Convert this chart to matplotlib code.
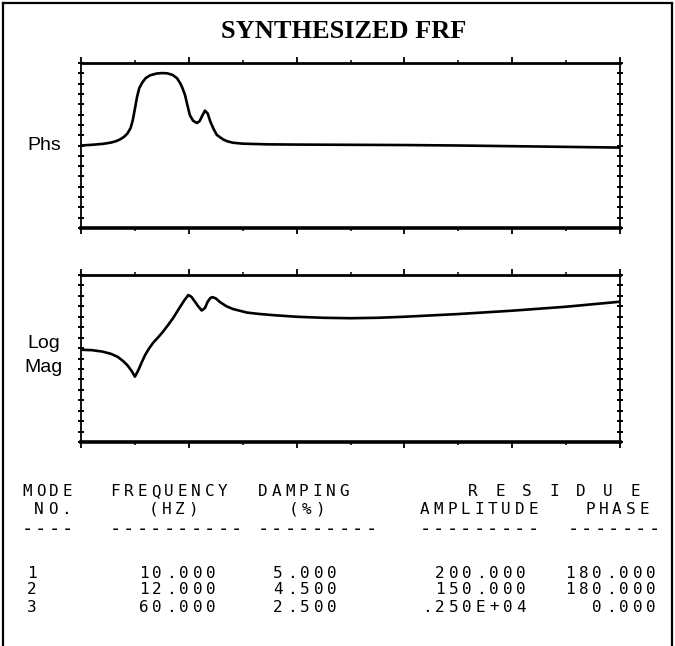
import numpy as np
import matplotlib
matplotlib.use("Agg")
import matplotlib.pyplot as plt
from matplotlib.lines import Line2D

W, H = 675, 646

# frequency axis, Hz (0..50 Hz across)
phs_freq = [0, 1.0, 2.0, 2.7, 3.2, 3.6, 4.0, 4.3, 4.6, 4.8, 5.0, 5.2, 5.4, 5.7,
            6.0, 6.4, 7.0, 7.5, 8.0, 8.5, 8.9, 9.2, 9.4, 9.65, 9.9, 10.1, 10.4,
            10.75, 11.0, 11.25, 11.5, 11.75, 12.0, 12.3, 12.6, 13.2, 13.6, 14.1,
            15.0, 17.3, 20, 25, 30, 35, 40, 45, 50]
phs_deg = [0, 1.5, 3.5, 6, 9, 13, 19, 26, 38, 55, 80, 106, 125, 138,
           147, 153, 157, 158, 157.5, 154, 147, 136, 126, 110, 85, 66, 54,
           49, 53, 65, 76, 70, 52, 36, 23, 13, 9, 6,
           4, 2.5, 2, 1.5, 1, 0, -1.5, -3, -4.5]

mag_freq = [0, 1.0, 2.0, 2.8, 3.4, 3.9, 4.3, 4.7, 5.0, 5.3, 5.6, 5.95, 6.3,
            6.7, 7.2, 7.6, 8.1, 8.55, 9.2, 9.6, 9.95, 10.25, 10.6, 10.9, 11.2,
            11.5, 11.75, 12.0, 12.2, 12.5, 12.9, 13.5, 14.1, 15.4, 16.6, 18.0,
            20.0, 22.5, 25.0, 27.5, 30.0, 35.0, 40.0, 45.0, 50.0]
mag_log = [0.42, 0.40, 0.33, 0.22, 0.08, -0.12, -0.32, -0.60, -0.87, -0.58,
           -0.22, 0.17, 0.47, 0.76, 1.04, 1.28, 1.62, 1.94, 2.48, 2.80, 3.04,
           2.95, 2.70, 2.48, 2.30, 2.42, 2.72, 2.90, 2.94, 2.88, 2.70, 2.50,
           2.37, 2.20, 2.13, 2.07, 2.00, 1.95, 1.93, 1.95, 2.00, 2.13, 2.29,
           2.48, 2.72]

# modal table
mode_no = ["1", "2", "3"]
freq_hz = ["10.000", "12.000", "60.000"]
damping = ["5.000", "4.500", "2.500"]
res_amp = ["200.000", "150.000", ".250E+04"]
res_phase = ["180.000", "180.000", "0.000"]

fig = plt.figure(figsize=(W / 100, H / 100), dpi=100)


def fx(x):
    return x / W


def fy(y):
    return 1 - y / H


def setup(ax, ylim, ystep):
    ax.set_xlim(0, 50)
    ax.set_ylim(*ylim)
    ax.set_xticks(np.arange(0, 51, 10))
    ax.set_xticks(np.arange(5, 50, 10), minor=True)
    ax.set_yticks(np.arange(ylim[0], ylim[1] + ystep / 2, ystep))
    ax.tick_params(axis="x", which="major", direction="out", length=4, width=1.3,
                   top=True, bottom=True, labelbottom=False)
    ax.tick_params(axis="x", which="minor", direction="out", length=2.5, width=1.1,
                   top=True, bottom=True)
    ax.tick_params(axis="y", direction="inout", length=5, width=1.4,
                   left=True, right=True, labelleft=False)
    ax.spines["left"].set_linewidth(1.3)
    ax.spines["right"].set_linewidth(1.3)
    ax.spines["top"].set_linewidth(2.0)
    ax.spines["bottom"].set_linewidth(2.6)


ax1 = fig.add_axes([fx(81), fy(228), fx(620) - fx(81), (228 - 63) / H])
ax1.plot(phs_freq, phs_deg, color="black", lw=1.9)
setup(ax1, (-180, 180), 22.5)

ax2 = fig.add_axes([fx(81), fy(442), fx(620) - fx(81), (442 - 275) / H])
ax2.plot(mag_freq, mag_log, color="black", lw=1.9)
setup(ax2, (-4, 4), 0.5)

# frame around the page
for xs, ys in [([3, 3], [3, H]), ([3, 672], [3, 3]), ([672, 672], [3, H])]:
    fig.add_artist(Line2D([fx(v) for v in xs], [fy(v) for v in ys],
                          color="black", lw=1.6))

fig.text(fx(344), fy(31), "SYNTHESIZED FRF", ha="center", va="center",
         family="Liberation Serif", weight="bold", fontsize=19)
fig.text(fx(44), fy(145), "Phs", ha="center", va="center",
         family="Liberation Sans", fontsize=14)
fig.text(fx(44), fy(343), "Log", ha="center", va="center",
         family="Liberation Sans", fontsize=14)
fig.text(fx(44), fy(367), "Mag", ha="center", va="center",
         family="Liberation Sans", fontsize=14)

PITCH = 13.5
GW = 10


def mono(x0, y, s, right=False, size=11.5):
    # plotter style text: one glyph per fixed cell
    if right:
        x0 = x0 - (len(s) - 1) * PITCH - GW
    for i, ch in enumerate(s):
        if ch == " ":
            continue
        fig.text(fx(x0 + i * PITCH + GW / 2), fy(y), ch, ha="center", va="center",
                 family="DejaVu Sans Mono", fontsize=size)


DASH = 13.5
DY = 530
mono(22, 492, "MODE")
mono(34, 509, "NO.")
mono(22, DY, "----", size=DASH)
mono(110, 492, "FREQUENCY")
mono(148, 509, "(HZ)")
mono(110, DY, "----------", size=DASH)
mono(258, 492, "DAMPING")
mono(288, 509, "(%)")
mono(258, DY, "---------", size=DASH)
mono(468, 492, "R E S I D U E")
mono(420, 509, "AMPLITUDE")
mono(420, DY, "---------", size=DASH)
mono(585, 509, "PHASE")
mono(568, DY, "-------", size=DASH)

rows_y = [573, 590, 607]
for k in range(3):
    mono(27, rows_y[k], mode_no[k])
    mono(216, rows_y[k], freq_hz[k], right=True)
    mono(337, rows_y[k], damping[k], right=True)
    mono(526, rows_y[k], res_amp[k], right=True)
    mono(656, rows_y[k], res_phase[k], right=True)

fig.savefig("out.png", dpi=100)
